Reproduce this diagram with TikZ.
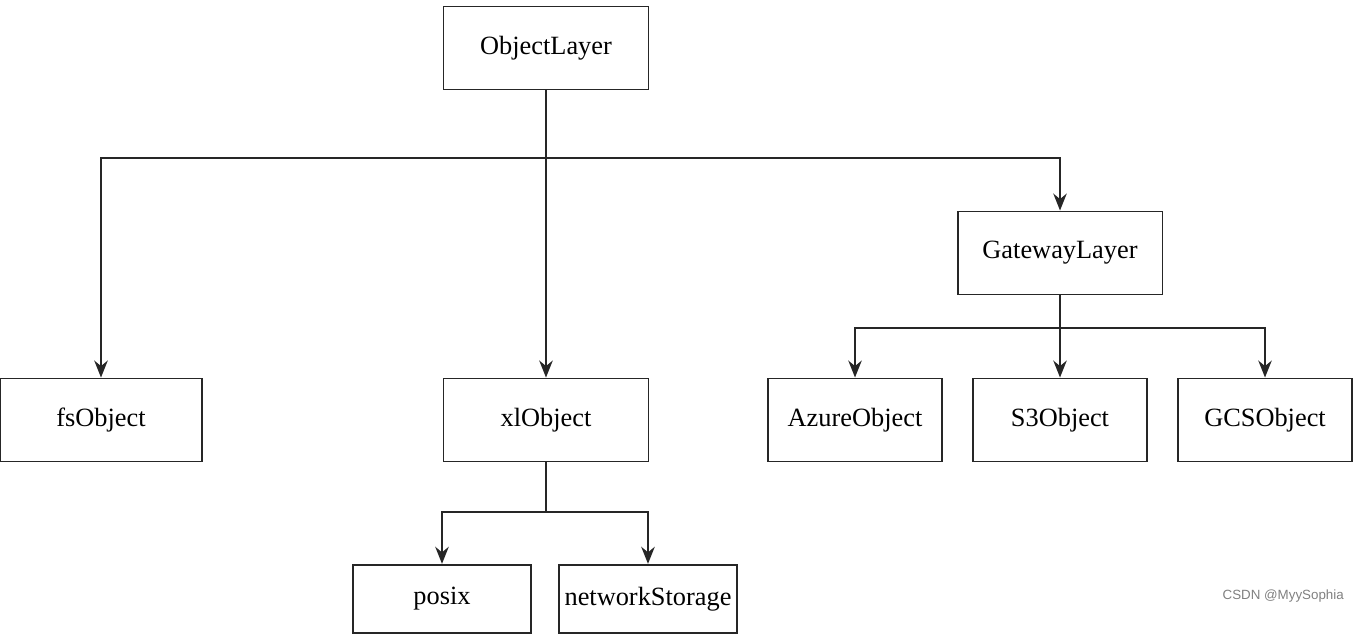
\documentclass[tikz,border=0pt]{standalone}
\usepackage{fontspec}
\setmainfont{Liberation Serif}
\newfontfamily\wmfont{Liberation Sans}
\usetikzlibrary{arrows.meta}

\begin{document}
\begin{tikzpicture}[x=0.02cm,y=-0.02cm,font=\fontsize{15}{17}\selectfont,
  box/.style={draw=black!85,line width=1.1pt,fill=white,inner sep=0pt,minimum width=4.1cm,minimum height=1.66cm},
  leaf/.style={box,minimum width=3.48cm},
  low/.style={box,minimum width=3.56cm,minimum height=1.37cm},
  arr/.style={-{Stealth[length=3.4mm,width=2.7mm]},line width=1.1pt,draw=black!85},
  ln/.style={line width=1.1pt,draw=black!85}]
\useasboundingbox (0,0) rectangle (1364,640);
% top level
\node[box] (obj) at (546,48) {ObjectLayer};
\node[box,minimum width=4.04cm] (fs) at (101,420) {fsObject};
\node[box] (xl) at (546,420) {xlObject};
\node[box] (gw) at (1060,253) {GatewayLayer};
% gateway children
\node[leaf] (az) at (855,420) {AzureObject};
\node[leaf] (s3) at (1060,420) {S3Object};
\node[leaf] (gcs) at (1265,420) {GCSObject};
% xl children
\node[low] (px) at (442,599) {posix};
\node[low] (ns) at (648,599) {networkStorage};
% connectors
\coordinate (top) at (546,158);
\draw[arr] (obj.south)--(xl.north);
\draw[arr] (top) -| (fs.north);
\draw[arr] (top) -| (gw.north);
\coordinate (gwsplit) at (1060,328);
\draw[arr] (gw.south)--(s3.north);
\draw[arr] (gwsplit) -| (az.north);
\draw[arr] (gwsplit) -| (gcs.north);
\coordinate (xlsplit) at (546,512);
\draw[ln] (xl.south)--(xlsplit);
\draw[arr] (xlsplit) -| (px.north);
\draw[arr] (xlsplit) -| (ns.north);
\node[font=\wmfont\fontsize{7.6}{9}\selectfont,text=black!50,anchor=east] (wm) at (1350,596) {CSDN @MyySophia};
\end{tikzpicture}
\end{document}
